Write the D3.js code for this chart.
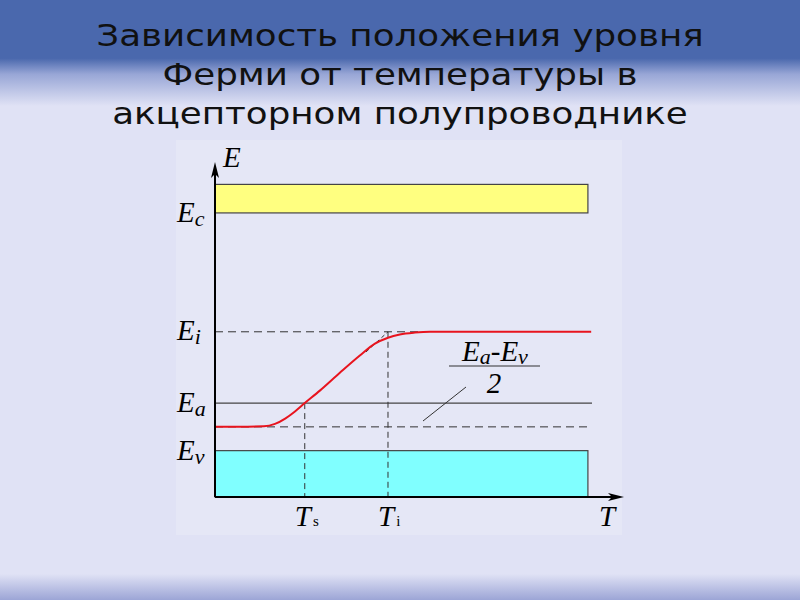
<!DOCTYPE html>
<html>
<head>
<meta charset="utf-8">
<script src="https://d3js.org/d3.v7.min.js"></script>
<style>
  body { margin: 0; background: #e0e2f5; }
  svg { display: block; }
</style>
</head>
<body>
<svg id="slide" width="800" height="600"></svg>
<script>
// title lines
var titleLines = ["Зависимость положения уровня", "Ферми от температуры в", "акцепторном полупроводнике"];

// energy levels (Ev = 0, Ei = 1)
var levelNames = ["Ec", "Ei", "Ea", "Ev"];
var levelValues = [2.0, 1.0, 0.4, 0.0];
var midLevel = 0.2;              // (Ea - Ev)/2 level
var condBand = [2.0, 2.24];      // conduction band bottom/top
var valBand = [-0.39, 0.0];      // valence band bottom/top
var bandEnd = 91.4;              // bands stop at this T

// temperatures marked on the T axis
var tempNames = ["Ts", "Ti"];
var tempValues = [22, 42.4];

// Fermi level vs T (red curve)
var curveT = [0, 12, 14.7, 17.2, 19.6, 22, 25.7, 30.6, 35.5, 39.2, 42.4, 45.3, 49, 52.7, 92.2];
var curveE = [0.2, 0.205, 0.225, 0.27, 0.33, 0.4, 0.505, 0.655, 0.8, 0.9, 0.95, 0.977, 0.993, 1.0, 1.0];

var svg = d3.select("#slide");
var defs = svg.append("defs");

var gTop = defs.append("linearGradient").attr("id", "gTop").attr("x1", 0).attr("x2", 0).attr("y1", 0).attr("y2", 1);
gTop.append("stop").attr("offset", "0").attr("stop-color", "#4a68ad");
gTop.append("stop").attr("offset", "0.55").attr("stop-color", "#4a68ad");
gTop.append("stop").attr("offset", "0.7").attr("stop-color", "#98a6d6");
gTop.append("stop").attr("offset", "1").attr("stop-color", "#e0e2f5");

var gBot = defs.append("linearGradient").attr("id", "gBot").attr("x1", 0).attr("x2", 0).attr("y1", 0).attr("y2", 1);
gBot.append("stop").attr("offset", "0").attr("stop-color", "#e0e2f5");
gBot.append("stop").attr("offset", "1").attr("stop-color", "#9ca5d6");

svg.append("rect").attr("width", 800).attr("height", 600).attr("fill", "#e0e2f5");
svg.append("rect").attr("width", 800).attr("height", 106).attr("fill", "url(#gTop)");
svg.append("rect").attr("y", 574).attr("width", 800).attr("height", 26).attr("fill", "url(#gBot)");

// picture panel
svg.append("rect").attr("x", 176).attr("y", 140).attr("width", 446).attr("height", 395).attr("fill", "#e5e7f6");

// title: the slide font is a bit wider than DejaVu Sans, so stretch it
svg.append("g").selectAll("text")
    .data(titleLines)
    .enter()
    .append("text")
    .attr("x", 400)
    .attr("y", function(d, i){ return 46 + i * 39; })
    .attr("text-anchor", "middle")
    .attr("font-family", "DejaVu Sans")
    .attr("font-size", 31)
    .attr("fill", "#111")
    .text(function(d){ return d; })
    .each(function(){
        var len = this.getComputedTextLength();
        d3.select(this).attr("textLength", len * 1.15).attr("lengthAdjust", "spacingAndGlyphs");
    });

var x = d3.scaleLinear().domain([0, 100]).range([215, 623]);
var y = d3.scaleLinear().domain([-0.39, 2.42]).range([497, 163]);

var g = svg.append("g");

// bands
g.append("rect")
    .attr("x", x(0)).attr("y", y(condBand[1]))
    .attr("width", x(bandEnd) - x(0)).attr("height", y(condBand[0]) - y(condBand[1]))
    .attr("fill", "#ffff80").attr("stroke", "#444").attr("stroke-width", 1.2);
g.append("rect")
    .attr("x", x(0)).attr("y", y(valBand[1]))
    .attr("width", x(bandEnd) - x(0)).attr("height", y(valBand[0]) - y(valBand[1]))
    .attr("fill", "#80ffff").attr("stroke", "#444").attr("stroke-width", 1.2);

// Ea solid line
g.append("line")
    .attr("x1", x(0)).attr("x2", x(92.4))
    .attr("y1", y(levelValues[2])).attr("y2", y(levelValues[2]))
    .attr("stroke", "#444").attr("stroke-width", 1.2);

// dashed levels
g.append("line")
    .attr("x1", x(0)).attr("x2", x(92.4))
    .attr("y1", y(midLevel)).attr("y2", y(midLevel))
    .attr("stroke", "#333").attr("stroke-width", 1).attr("stroke-dasharray", "8,5");
g.append("line")
    .attr("x1", x(0)).attr("x2", x(50))
    .attr("y1", y(levelValues[1])).attr("y2", y(levelValues[1]))
    .attr("stroke", "#333").attr("stroke-width", 1).attr("stroke-dasharray", "8,5");

// vertical dashed at Ts, Ti
var tempTops = [levelValues[2], levelValues[1]];
g.selectAll("line.tv")
    .data(tempValues)
    .enter()
    .append("line")
    .attr("class", "tv")
    .attr("x1", function(d){ return x(d); })
    .attr("x2", function(d){ return x(d); })
    .attr("y1", function(d, i){ return y(tempTops[i]); })
    .attr("y2", y(valBand[0]))
    .attr("stroke", "#333").attr("stroke-width", 1).attr("stroke-dasharray", "6,4");

// tangent at Ti
g.append("line")
    .attr("x1", x(37)).attr("y1", y(0.83))
    .attr("x2", x(42.4)).attr("y2", y(1.0))
    .attr("stroke", "#333").attr("stroke-width", 1).attr("stroke-dasharray", "4,3");

// Fermi level curve
var pts = curveT.map(function(t, i){ return [t, curveE[i]]; });
g.append("path")
    .datum(pts)
    .attr("d", d3.line()
        .x(function(d){ return x(d[0]); })
        .y(function(d){ return y(d[1]); })
        .curve(d3.curveMonotoneX))
    .attr("fill", "none")
    .attr("stroke", "#e8141e")
    .attr("stroke-width", 2);

// axes with arrows
g.append("line").attr("x1", x(0)).attr("y1", y(valBand[0])).attr("x2", x(0)).attr("y2", 166)
    .attr("stroke", "#000").attr("stroke-width", 2);
g.append("path").attr("d", "M215,162 L211,178 L215,174 L219,178 Z").attr("fill", "#000");
g.append("line").attr("x1", x(0)).attr("y1", y(valBand[0])).attr("x2", 620).attr("y2", y(valBand[0]))
    .attr("stroke", "#000").attr("stroke-width", 2);
g.append("path").attr("d", "M624,497 L608,493 L612,497 L608,501 Z").attr("fill", "#000");

// labels
var serif = "Liberation Serif";
function label(px, py, main, sub, subItalic){
    var t = svg.append("text")
        .attr("x", px).attr("y", py)
        .attr("font-family", serif)
        .attr("font-size", 29)
        .attr("fill", "#000");
    t.append("tspan").attr("font-style", "italic").text(main);
    if(sub){
        t.append("tspan")
            .attr("font-style", subItalic ? "italic" : "normal")
            .attr("font-size", subItalic ? 22 : 15)
            .attr("dy", subItalic ? 4 : 0)
            .attr("dx", subItalic ? 0 : 2)
            .text(sub);
    }
    return t;
}

var levelLabelY = [222, 340, 412, 460];
levelNames.forEach(function(n, i){
    label(177, levelLabelY[i], "E", n.slice(1), true);
});
label(223, 167, "E");
label(599, 526, "T");
tempNames.forEach(function(n, i){
    label(x(tempValues[i]) - 10, 526, "T", n.slice(1), false);
});

// fraction label (Ea-Ev)/2
var fr = svg.append("text").attr("x", 462).attr("y", 361)
    .attr("font-family", serif).attr("font-size", 29).attr("font-style", "italic");
fr.append("tspan").text("E");
fr.append("tspan").attr("font-size", 22).attr("dy", 3).text("a");
fr.append("tspan").attr("font-style", "normal").attr("dy", -3).text("-");
fr.append("tspan").text("E");
fr.append("tspan").attr("font-size", 22).attr("dy", 3).text("v");
svg.append("line").attr("x1", 449).attr("x2", 540).attr("y1", 366).attr("y2", 366)
    .attr("stroke", "#333").attr("stroke-width", 1.2);
svg.append("text").attr("x", 494).attr("y", 393).attr("text-anchor", "middle")
    .attr("font-family", serif).attr("font-size", 29).attr("font-style", "italic").text("2");
svg.append("line").attr("x1", 423).attr("y1", 421).attr("x2", 466).attr("y2", 387)
    .attr("stroke", "#333").attr("stroke-width", 1);
</script>
</body>
</html>
